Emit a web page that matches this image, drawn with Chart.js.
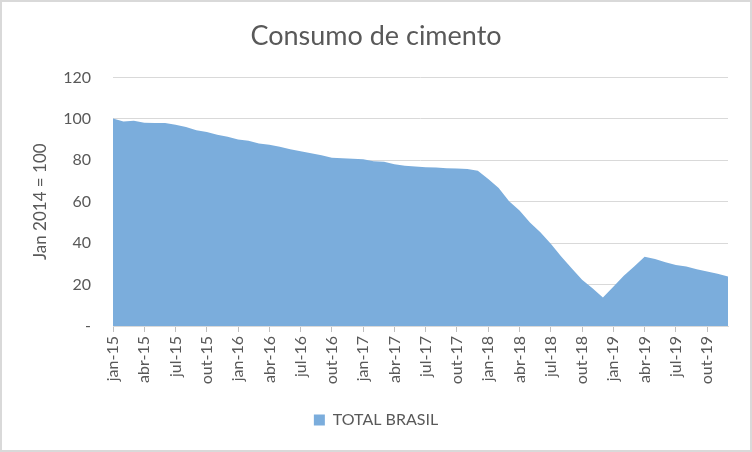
<!DOCTYPE html>
<html>
<head>
<meta charset="utf-8">
<script src="https://cdn.jsdelivr.net/npm/chart.js@4.4.1/dist/chart.umd.min.js"></script>
<style>
  html, body { margin: 0; padding: 0; background: #fff; }
  #wrap { width: 752px; height: 452px; position: relative; }
</style>
</head>
<body>
<div id="wrap"><canvas id="c"></canvas></div>
<script>
const months = ['jan','fev','mar','abr','mai','jun','jul','ago','set','out','nov','dez'];
const years = ['15','16','17','18','19'];
const categories = [];
years.forEach(y => months.forEach(m => categories.push(m + '-' + y)));

const totalBrasil = [
  100.2, 98.7, 99.1, 98.1, 98.0, 98.0, 97.1, 96.0, 94.5, 93.6, 92.3, 91.3,
  90.0, 89.4, 88.1, 87.5, 86.5, 85.3, 84.4, 83.4, 82.4, 81.2, 81.0, 80.7,
  80.5, 79.5, 79.3, 78.1, 77.4, 77.0, 76.6, 76.5, 76.1, 76.0, 75.8, 75.0,
  71.0, 66.6, 60.2, 55.8, 50.0, 45.2, 39.7, 33.5, 27.9, 22.3, 18.2, 13.7,
  19.0, 24.2, 28.7, 33.4, 32.3, 30.8, 29.5, 28.7, 27.4, 26.3, 25.2, 23.9
];

const yTicks = [0, 20, 40, 60, 80, 100, 120];
const titleText = 'Consumo de cimento';
const yTitle = 'Jan 2014 = 100';
const seriesName = 'TOTAL BRASIL';

const FONT = 'Lato, "Open Sans", sans-serif';
const GREY = '#595959';

const borderPlugin = {
  id: 'outerBorder',
  afterDraw(chart) {
    const ctx = chart.ctx;
    ctx.save();
    ctx.strokeStyle = '#d9d9d9';
    ctx.lineWidth = 2;
    ctx.strokeRect(1, 1, chart.width - 2, chart.height - 2);
    ctx.restore();
  }
};

new Chart(document.getElementById('c'), {
  type: 'line',
  data: {
    labels: categories,
    datasets: [{
      label: seriesName,
      data: totalBrasil,
      fill: 'origin',
      backgroundColor: '#7BADDC',
      borderColor: '#7BADDC',
      borderWidth: 0,
      pointRadius: 0,
      pointHoverRadius: 0,
      tension: 0
    }]
  },
  options: {
    responsive: true,
    maintainAspectRatio: false,
    devicePixelRatio: 1,
    animation: false,
    events: [],
    layout: { padding: { left: 0, right: 0, top: 0, bottom: 14 } },
    plugins: {
      title: {
        display: true,
        text: titleText,
        color: GREY,
        font: { family: FONT, size: 27, weight: 'normal' },
        padding: { top: 20, bottom: 25 }
      },
      legend: {
        position: 'bottom',
        labels: {
          color: GREY,
          font: { family: FONT, size: 16 },
          boxWidth: 11,
          boxHeight: 11,
          padding: 10
        }
      },
      tooltip: { enabled: false }
    },
    scales: {
      x: {
        offset: false,
        afterFit(scale) { scale.height = 76; },
        grid: {
          display: true,
          drawOnChartArea: false,
          drawTicks: true,
          tickLength: 6,
          color: '#bfbfbf'
        },
        border: { display: true, color: '#d9d9d9', width: 1 },
        ticks: {
          autoSkip: false,
          maxRotation: 90,
          minRotation: 90,
          padding: 4,
          color: GREY,
          font: { family: FONT, size: 16 },
          callback(value, index) {
            return index % 3 === 0 ? categories[index] : null;
          }
        }
      },
      y: {
        min: 0,
        max: 120,
        afterFit(scale) { scale.width = 113; },
        afterBuildTicks(scale) { scale.ticks = yTicks.map(v => ({ value: v })); },
        grid: { color: '#d9d9d9', drawTicks: false, lineWidth: 1 },
        border: { display: false },
        ticks: {
          padding: 22,
          color: GREY,
          font: { family: FONT, size: 16 },
          callback(v) { return v === 0 ? '-' : v; }
        },
        title: {
          display: true,
          text: yTitle,
          color: GREY,
          font: { family: FONT, size: 17 },
          padding: { top: 30, bottom: 0 }
        }
      },
      yRight: {
        position: 'right',
        display: true,
        min: 0,
        max: 120,
        afterFit(scale) { scale.width = 24; },
        grid: { display: false, drawTicks: false },
        border: { display: false },
        ticks: { display: false }
      }
    }
  },
  plugins: [borderPlugin]
});
</script>
</body>
</html>
